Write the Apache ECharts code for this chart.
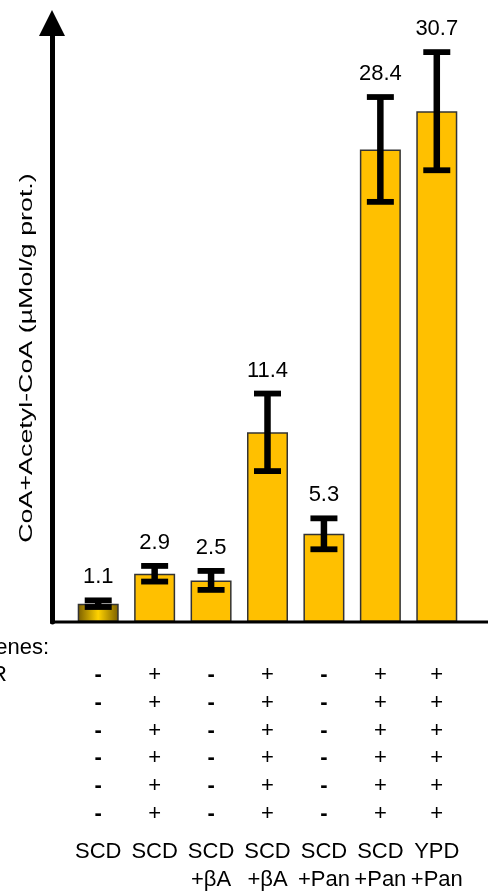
<!DOCTYPE html>
<html>
<head>
<meta charset="utf-8">
<script src="https://cdn.jsdelivr.net/npm/echarts@6/dist/echarts.min.js"></script>
<style>
  html, body { margin: 0; padding: 0; background: #fff; }
  #chart { width: 488px; height: 892px; }
</style>
</head>
<body>
<div id="chart"></div>
<script>
// Growth medium and supplement for each strain/condition
const media = ['SCD', 'SCD', 'SCD', 'SCD', 'SCD', 'SCD', 'YPD'];
const supplements = ['', '', '+βA', '+βA', '+Pan', '+Pan', '+Pan'];

// CoA + acetyl-CoA content (µMol/g protein) and standard deviations
const coaLevels = [1.1, 2.9, 2.5, 11.4, 5.3, 28.4, 30.7];
const coaSD = [0.2, 0.47, 0.57, 2.33, 0.93, 3.15, 3.55];

// Presence (+) / absence (-) of the expressed genes, one row per gene
const geneRows = [
  ['-', '+', '-', '+', '-', '+', '+'],
  ['-', '+', '-', '+', '-', '+', '+'],
  ['-', '+', '-', '+', '-', '+', '+'],
  ['-', '+', '-', '+', '-', '+', '+'],
  ['-', '+', '-', '+', '-', '+', '+'],
  ['-', '+', '-', '+', '-', '+', '+']
];
const geneHeader = 'Genes:';
const geneNames = ['R', '', '', '', '', ''];

const yTitle = 'CoA+Acetyl-CoA (µMol/g prot.)';
const FONT = '"Liberation Sans", Arial, Helvetica, sans-serif';

const categories = media.map((m, i) => supplements[i] ? m + '\n' + supplements[i] : m);

function tableLabel(value, idx) {
  const signs = geneRows.map(r => '{' + (r[idx] === '+' ? 'p' : 'm') + '|' + r[idx] + '}');
  return signs.join('\n') + '\n{sp| }\n{n|' + media[idx] + '}\n{n|' + (supplements[idx] || ' ') + '}';
}

const gold = '#FFC000';
const firstBarFill = {
  type: 'linear', x: 0, y: 0, x2: 1, y2: 0,
  colorStops: [
    { offset: 0, color: '#7A5E00' },
    { offset: 0.5, color: '#FFD200' },
    { offset: 1, color: '#7A5E00' }
  ]
};

const chart = echarts.init(document.getElementById('chart'), null, { renderer: 'canvas' });

const option = {
  animation: false,
  backgroundColor: '#ffffff',
  grid: { left: 70, right: 23, top: 23, bottom: 270, containLabel: false },
  xAxis: {
    type: 'category',
    data: categories,
    axisLine: { show: false },
    axisTick: { show: false },
    axisLabel: {
      interval: 0,
      margin: 39,
      align: 'center',
      formatter: tableLabel,
      rich: {
        p: { fontFamily: FONT, fontSize: 22, lineHeight: 27.8, color: '#000' },
        m: { fontFamily: FONT, fontSize: 22, fontWeight: 'bold', lineHeight: 27.8, color: '#000' },
        sp: { fontSize: 6, lineHeight: 10 },
        n: { fontFamily: FONT, fontSize: 22, lineHeight: 28, color: '#000' }
      }
    }
  },
  yAxis: {
    type: 'value',
    min: 0,
    max: 36,
    offset: 18,
    splitLine: { show: false },
    axisTick: { show: false },
    axisLabel: { show: false },
    axisLine: {
      show: true,
      symbol: ['none', 'triangle'],
      symbolSize: [26, 26],
      lineStyle: { color: '#000', width: 5 }
    }
  },
  series: [
    {
      type: 'bar',
      barWidth: 41,
      data: coaLevels.map((v, i) => ({
        value: v,
        itemStyle: i === 0 ? { color: firstBarFill } : {}
      })),
      itemStyle: { color: gold, borderColor: '#333', borderWidth: 1.5 },
      z: 2
    },
    {
      type: 'custom',
      data: coaLevels.map((v, i) => [i, v, coaSD[i]]),
      clip: false,
      z: 5,
      renderItem(params, api) {
        const i = api.value(0), m = api.value(1), sd = api.value(2);
        const top = api.coord([i, m + sd]);
        const bot = api.coord([i, m - sd]);
        const x = top[0], half = 13.5;
        const stem = { stroke: '#000', lineWidth: 6.5 };
        const cap = { stroke: '#000', lineWidth: 5.8 };
        return {
          type: 'group',
          children: [
            { type: 'line', shape: { x1: x, y1: top[1], x2: x, y2: bot[1] }, style: stem },
            { type: 'line', shape: { x1: x - half, y1: top[1], x2: x + half, y2: top[1] }, style: cap },
            { type: 'line', shape: { x1: x - half, y1: bot[1], x2: x + half, y2: bot[1] }, style: cap },
            {
              type: 'text', x: x, y: top[1] - 23,
              style: {
                text: m.toFixed(1), fill: '#000', fontFamily: FONT, fontSize: 22,
                align: 'center', verticalAlign: 'middle'
              }
            }
          ]
        };
      }
    }
  ],
  graphic: [
    {
      id: 'ytitle', type: 'text', x: 27, y: 358, rotation: Math.PI / 2, scaleX: 1.45,
      style: { text: yTitle, fill: '#000', fontFamily: FONT, fontSize: 18.5, align: 'center', verticalAlign: 'middle' }
    }
  ]
};

chart.setOption(option);

// Baseline and row headers of the gene table, aligned with the axis labels
const baseY = chart.convertToPixel({ yAxisIndex: 0 }, 0);
const firstRowY = baseY + 39 + 27.8 / 2;
const extra = [
  {
    id: 'baseline', type: 'line', z: 10,
    shape: { x1: 50, y1: baseY, x2: 488, y2: baseY },
    style: { stroke: '#000', lineWidth: 3 }
  },
  {
    id: 'header', type: 'text', x: 49, y: firstRowY - 27,
    style: { text: geneHeader, fill: '#000', fontFamily: FONT, fontSize: 22, align: 'right', verticalAlign: 'middle' }
  }
];
geneNames.forEach((name, k) => {
  if (!name) return;
  extra.push({
    id: 'gene' + k, type: 'text', x: 7, y: firstRowY + k * 27.8,
    style: { text: name, fill: '#000', fontFamily: FONT, fontSize: 22, align: 'right', verticalAlign: 'middle' }
  });
});
chart.setOption({ graphic: extra });
</script>
</body>
</html>
